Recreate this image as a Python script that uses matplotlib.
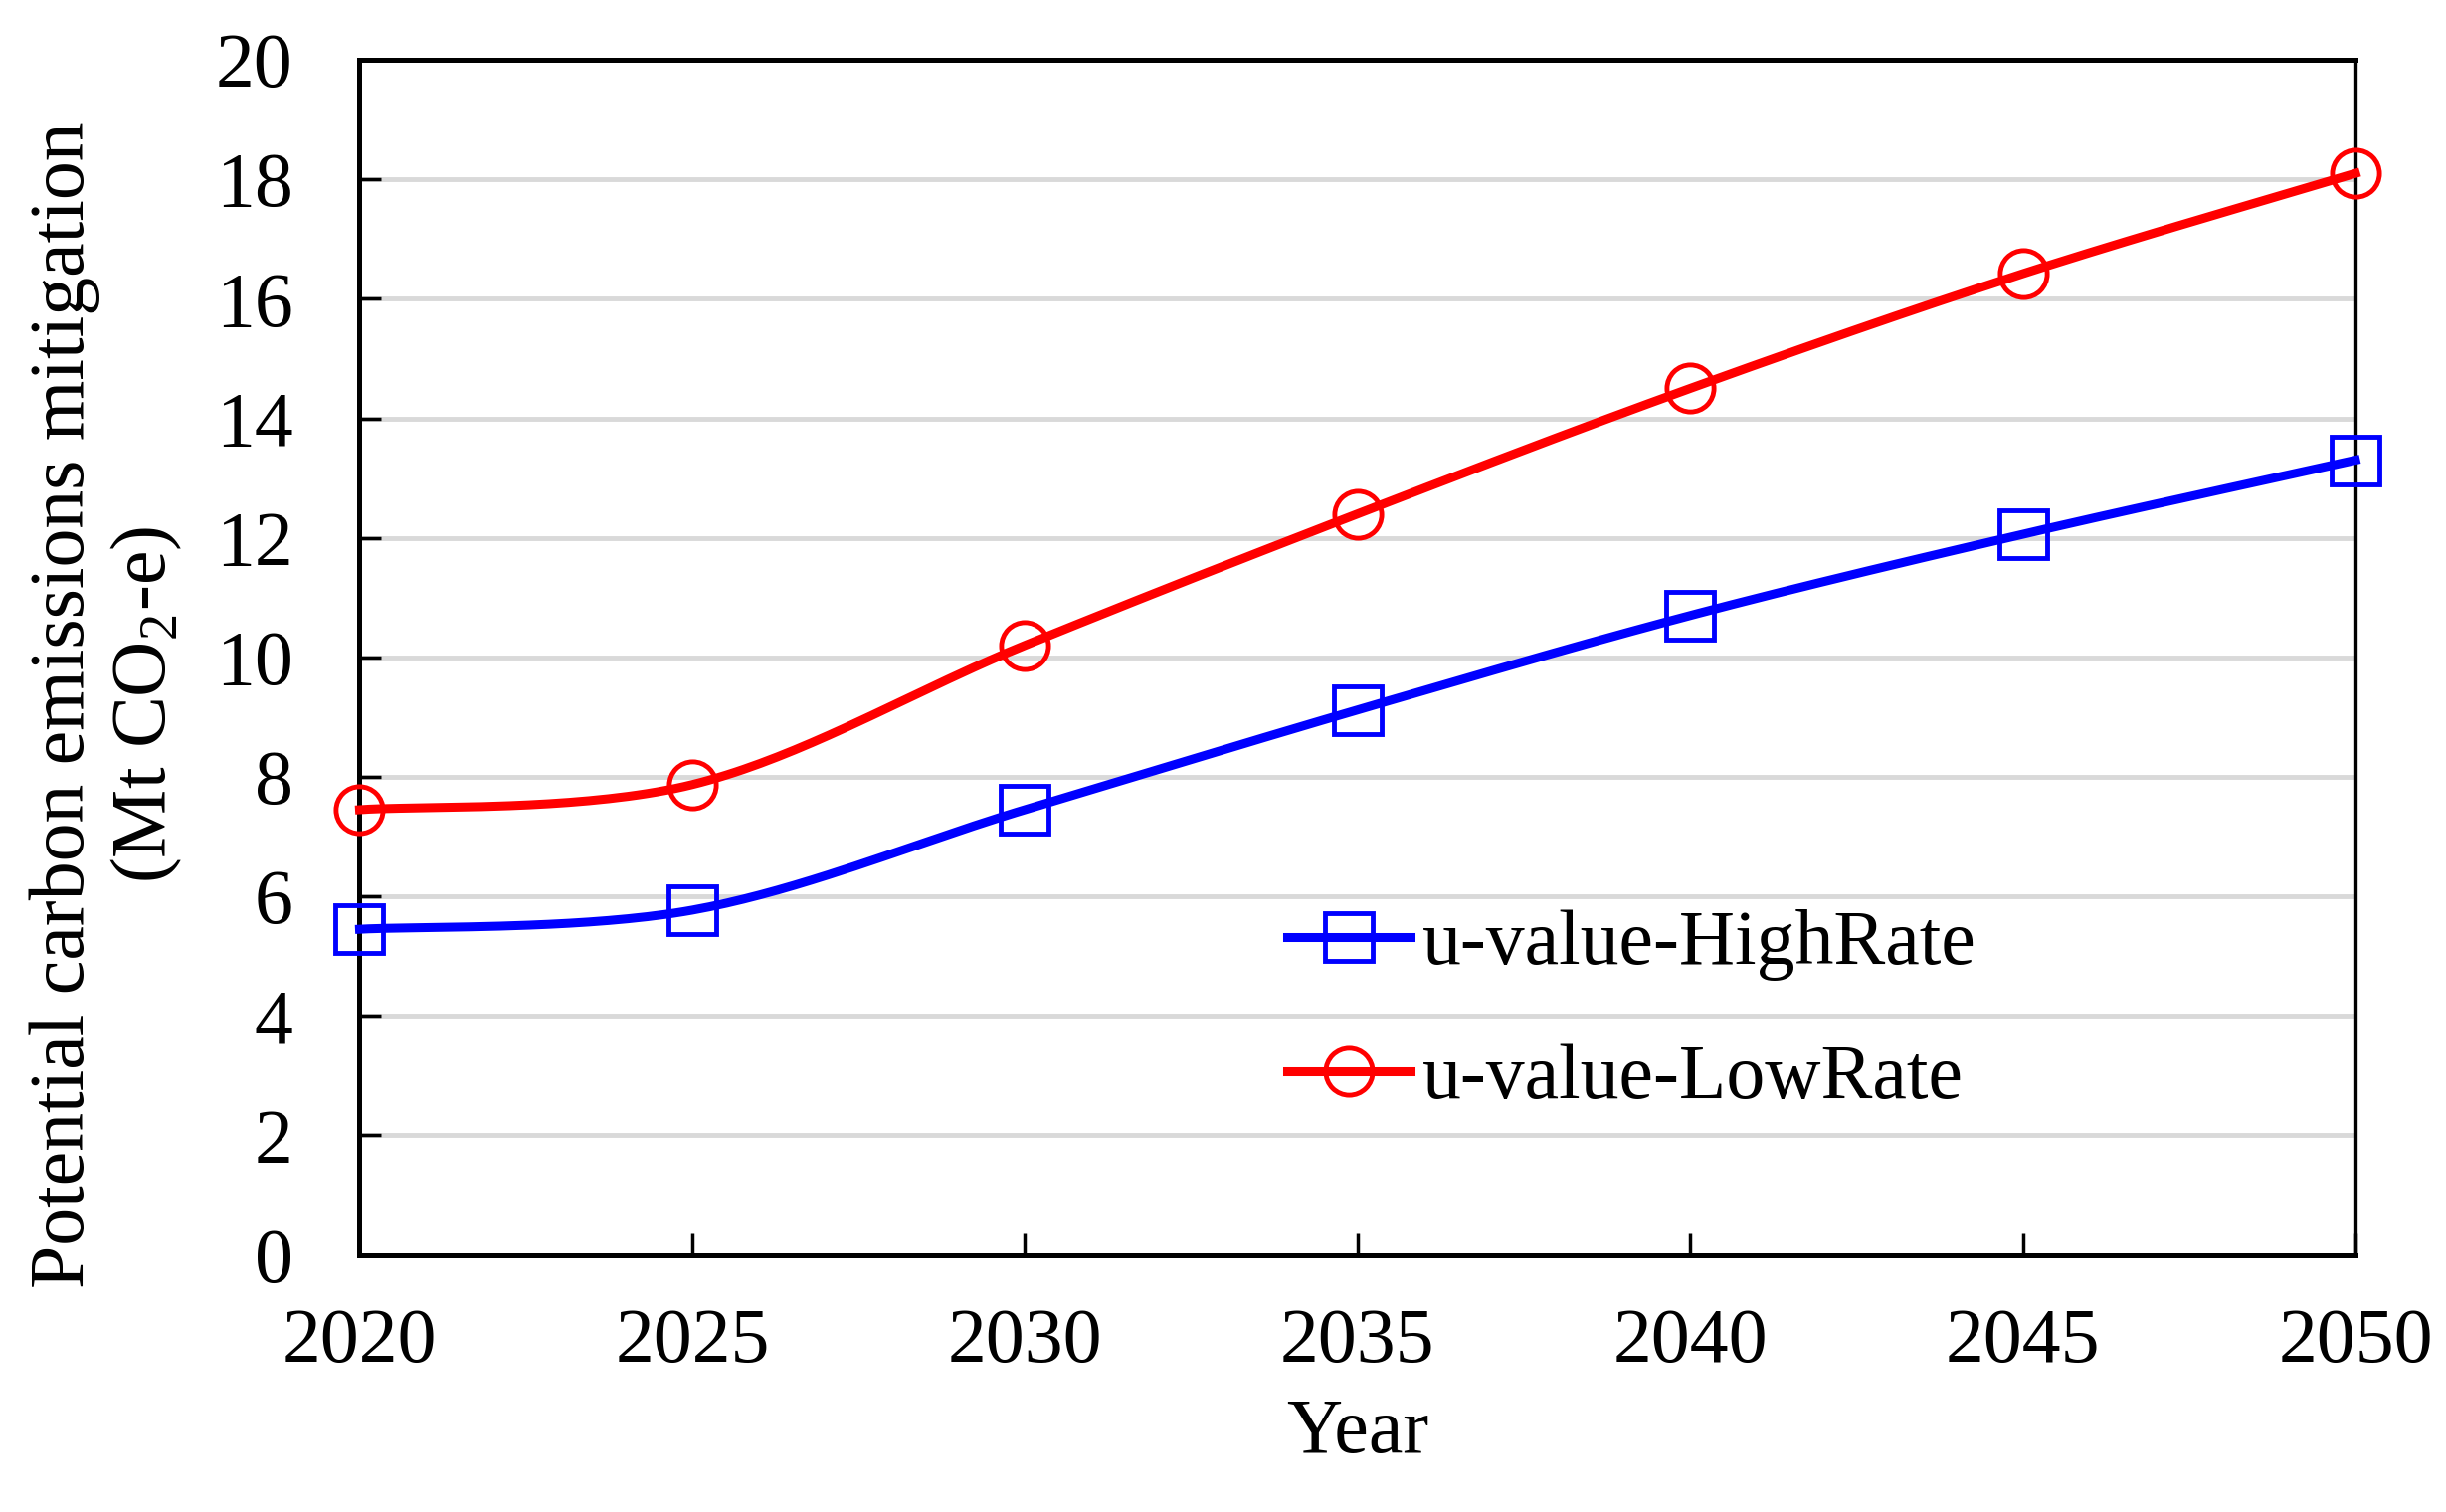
import numpy as np
import matplotlib
matplotlib.use("Agg")
import matplotlib.pyplot as plt
from matplotlib.lines import Line2D

plt.rcParams['font.family'] = ['Liberation Serif', 'DejaVu Serif']
plt.rcParams['mathtext.fontset'] = 'custom'
plt.rcParams['mathtext.rm'] = 'Liberation Serif'

years = [2020, 2025, 2030, 2035, 2040, 2045, 2050]
high_rate = [5.45, 5.77, 7.45, 9.12, 10.7, 12.06, 13.3]
low_rate = [7.45, 7.87, 10.2, 12.4, 14.5, 16.42, 18.1]
yticks = [0, 2, 4, 6, 8, 10, 12, 14, 16, 18, 20]


def smooth(x, y, n=40):
    # catmull-rom style smoothing like excel "smoothed line"
    x = np.asarray(x, float)
    y = np.asarray(y, float)
    px = np.concatenate([[x[0]], x, [x[-1]]])
    py = np.concatenate([[y[0]], y, [y[-1]]])
    xs, ys = [], []
    t = np.linspace(0, 1, n)
    for i in range(1, len(px) - 2):
        p0, p1, p2, p3 = (px[i-1], py[i-1]), (px[i], py[i]), (px[i+1], py[i+1]), (px[i+2], py[i+2])
        c1 = (p1[0] + (p2[0] - p0[0]) / 6, p1[1] + (p2[1] - p0[1]) / 6)
        c2 = (p2[0] - (p3[0] - p1[0]) / 6, p2[1] - (p3[1] - p1[1]) / 6)
        bx = (1-t)**3*p1[0] + 3*(1-t)**2*t*c1[0] + 3*(1-t)*t**2*c2[0] + t**3*p2[0]
        by = (1-t)**3*p1[1] + 3*(1-t)**2*t*c1[1] + 3*(1-t)*t**2*c2[1] + t**3*p2[1]
        xs.extend(bx)
        ys.extend(by)
    return np.array(xs), np.array(ys)


fig = plt.figure(figsize=(24.59, 15.2), dpi=100)
ax = fig.add_axes([0.147, 0.170, 0.816, 0.7905])

lw = 6.5
ms = 34
mew = 3.5
fs = 56

for data, col, mk, lab in [(high_rate, '#0000ff', 's', 'u-value-HighRate'),
                           (low_rate, '#ff0000', 'o', 'u-value-LowRate')]:
    sx, sy = smooth(years, data)
    ax.plot(sx, sy, color=col, lw=lw, zorder=3, clip_on=False)
    ax.plot(years, data, linestyle='none', marker=mk, ms=ms, mew=mew,
            mfc='none', mec=col, zorder=4, clip_on=False)

ax.set_xlim(2020, 2050)
ax.set_ylim(0, 20)
ax.set_xticks(years)
ax.set_yticks(yticks)
ax.yaxis.grid(True, color='#d9d9d9', lw=3.5, zorder=1)
ax.set_axisbelow(True)

ax.tick_params(axis='both', direction='in', length=16, width=2.5, labelsize=fs)
ax.tick_params(axis='x', pad=38)
ax.tick_params(axis='y', pad=48)
for s in ax.spines.values():
    s.set_linewidth(3.6)
ax.spines['right'].set_linewidth(2.4)

ax.set_xlabel('Year', fontsize=fs, labelpad=14)
ax.set_ylabel('Potential carbon emissions mitigation\n(Mt CO$_2$-e)', fontsize=fs,
              linespacing=1.15)
ax.yaxis.set_label_coords(-0.088, 0.46)

handles = [Line2D([], [], color='#0000ff', lw=lw, marker='s', ms=ms, mew=mew, mfc='none'),
           Line2D([], [], color='#ff0000', lw=lw, marker='o', ms=ms, mew=mew, mfc='none')]
ax.legend(handles, ['u-value-HighRate', 'u-value-LowRate'], loc='upper left',
          bbox_to_anchor=(0.449, 0.315), frameon=False, fontsize=fs,
          handlelength=1.6, handletextpad=0.15, labelspacing=0.82, borderaxespad=0)

fig.savefig('out.png', dpi=100)
